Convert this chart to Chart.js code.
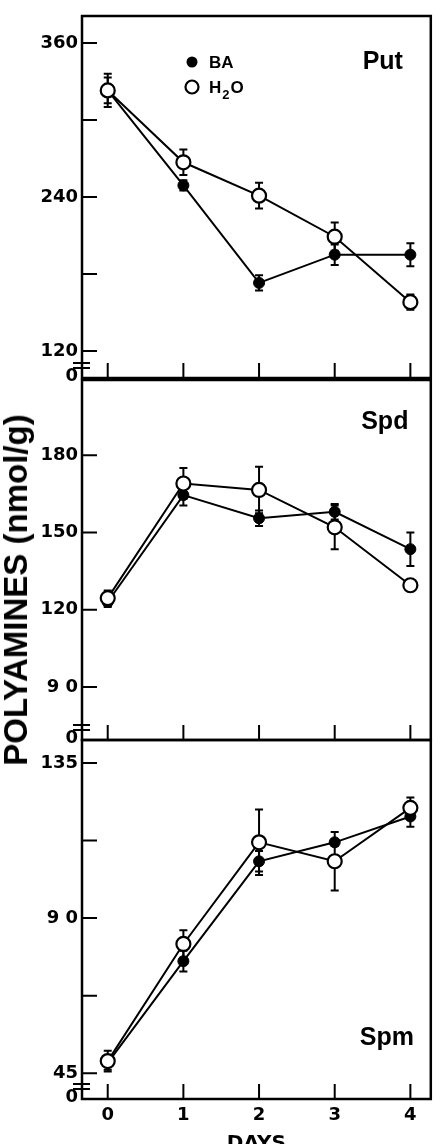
<!DOCTYPE html>
<html>
<head>
<meta charset="utf-8">
<script src="https://cdn.jsdelivr.net/npm/chart.js@4"></script>
<style>
  html, body { margin: 0; padding: 0; background: #fff; overflow: hidden; }
  #wrap { position: relative; width: 440px; height: 1144px; }
  canvas { position: absolute; left: 0; }
  #ytitle {
    position: absolute; left: 16px; top: 590px;
    transform: translate(-50%, -50%) rotate(-90deg);
    font: bold 33px "Liberation Sans", Arial, sans-serif;
    white-space: nowrap; color: #000;
  }
</style>
</head>
<body>
<div id="wrap">
  <canvas id="put" width="440" height="400" style="top:0px"></canvas>
  <canvas id="spd" width="440" height="400" style="top:360px"></canvas>
  <canvas id="spm" width="440" height="444" style="top:720px"></canvas>
  <div id="ytitle">POLYAMINES (nmol/g)</div>
</div>
<script>
// days after treatment
const days = [0, 1, 2, 3, 4];

// Putrescine
const putBA = [323, 249, 173, 195, 195];
const putBAErr = [10, 4, 6, 8, 9];
const putH2O = [323, 267, 241, 209, 158];
const putH2OErr = [13, 10, 10, 11, 6];
const putTicks = [120, 180, 240, 300, 360];
const putLabels = ['120', '', '240', '', '360'];

// Spermidine
const spdBA = [123, 164.5, 155.5, 158, 143.5];
const spdBAErr = [2, 4, 3, 3, 6.5];
const spdH2O = [124.5, 169, 166.5, 152, 129.5];
const spdH2OErr = [3, 6, 9, 8.5, 2];
const spdTicks = [90, 120, 150, 180];
const spdLabels = ['9 0', '120', '150', '180'];

// Spermine
const spmBA = [48, 77.5, 106.5, 112, 119.5];
const spmBAErr = [2, 3, 3, 1, 3];
const spmH2O = [48.5, 82.5, 112, 106.5, 122];
const spmH2OErr = [3, 4, 9.5, 8.5, 3];
const spmTicks = [45, 67.5, 90, 112.5, 135];
const spmLabels = ['45', '', '9 0', '', '135'];

Chart.defaults.color = '#000';
Chart.defaults.animation = false;

// frame, inner ticks, axis break, error bars, panel name, legend
const panelPlugin = {
  id: 'panel',
  beforeDatasetsDraw(chart) {
    const { ctx, scales: { x, y } } = chart;
    ctx.save();
    ctx.strokeStyle = '#000';
    ctx.lineWidth = 2;
    chart.data.datasets.forEach(ds => {
      ds.data.forEach((p, i) => {
        const e = ds.err[i];
        if (!e) return;
        const px = x.getPixelForValue(p.x);
        const top = y.getPixelForValue(p.y + e);
        const bot = y.getPixelForValue(p.y - e);
        ctx.beginPath();
        ctx.moveTo(px, top); ctx.lineTo(px, bot);
        ctx.moveTo(px - 4, top); ctx.lineTo(px + 4, top);
        ctx.moveTo(px - 4, bot); ctx.lineTo(px + 4, bot);
        ctx.stroke();
      });
    });
    ctx.restore();
  },
  afterDraw(chart, args, opts) {
    const { ctx, chartArea: a, scales: { x, y } } = chart;
    ctx.save();
    ctx.strokeStyle = '#000';
    ctx.lineWidth = 2.5;
    ctx.strokeRect(a.left, a.top, a.right - a.left, a.bottom - a.top);

    ctx.lineWidth = 2;
    ctx.beginPath();
    opts.ticks.forEach(v => {
      const py = y.getPixelForValue(v);
      ctx.moveTo(a.left, py); ctx.lineTo(a.left + 15, py);
    });
    days.forEach(d => {
      const px = x.getPixelForValue(d);
      ctx.moveTo(px, a.bottom); ctx.lineTo(px, a.bottom - 15);
    });
    // axis break
    ctx.moveTo(a.left - 9, a.bottom - 15); ctx.lineTo(a.left + 8, a.bottom - 15);
    ctx.moveTo(a.left - 9, a.bottom - 10); ctx.lineTo(a.left + 8, a.bottom - 10);
    ctx.stroke();

    ctx.fillStyle = '#000';
    ctx.font = 'bold 25px "Liberation Sans", Arial, sans-serif';
    ctx.textAlign = 'center';
    ctx.textBaseline = 'middle';
    const ny = opts.nameTop ? a.top + opts.nameDy : a.bottom - opts.nameDy;
    ctx.fillText(opts.name, a.right - opts.nameDx, ny);

    if (opts.legend) {
      const lx = a.left + 110;
      ctx.beginPath();
      ctx.arc(lx, a.top + 46, 5.5, 0, Math.PI * 2);
      ctx.fill();
      ctx.beginPath();
      ctx.lineWidth = 2.2;
      ctx.arc(lx, a.top + 71, 6.5, 0, Math.PI * 2);
      ctx.stroke();
      ctx.textAlign = 'left';
      ctx.font = 'bold 17px "Liberation Sans", Arial, sans-serif';
      ctx.fillText('BA', lx + 17, a.top + 47);
      ctx.fillText('H', lx + 17, a.top + 72);
      const hw = ctx.measureText('H').width;
      ctx.font = 'bold 13px "Liberation Sans", Arial, sans-serif';
      ctx.fillText('2', lx + 18 + hw, a.top + 79);
      const tw = ctx.measureText('2').width;
      ctx.font = 'bold 17px "Liberation Sans", Arial, sans-serif';
      ctx.fillText('O', lx + 19 + hw + tw, a.top + 72);
    }
    ctx.restore();
  }
};

function makeChart(id, cfg) {
  const pts = arr => days.map((d, i) => ({ x: d, y: arr[i] }));
  return new Chart(document.getElementById(id), {
    type: 'line',
    data: {
      datasets: [
        {
          label: 'H2O', data: pts(cfg.h2o), err: cfg.h2oErr, order: 0,
          borderColor: '#000', borderWidth: 2,
          pointRadius: 7, pointBackgroundColor: '#fff',
          pointBorderColor: '#000', pointBorderWidth: 2.2
        },
        {
          label: 'BA', data: pts(cfg.ba), err: cfg.baErr, order: 1,
          borderColor: '#000', borderWidth: 2,
          pointRadius: 5.5, pointBackgroundColor: '#000',
          pointBorderColor: '#000', pointBorderWidth: 1
        }
      ]
    },
    options: {
      responsive: false,
      layout: { padding: cfg.padding },
      plugins: {
        legend: { display: false },
        tooltip: { enabled: false },
        panel: {
          ticks: cfg.ticks, name: cfg.name, legend: cfg.legend,
          nameTop: cfg.nameTop, nameDx: cfg.nameDx, nameDy: cfg.nameDy
        }
      },
      scales: {
        x: {
          type: 'linear', min: -0.34, max: 4.27,
          display: cfg.showX,
          grid: { display: false, drawTicks: false },
          border: { display: false },
          afterBuildTicks: s => { s.ticks = days.map(v => ({ value: v })); },
          afterFit: s => { s.height = cfg.showX ? 65 : 0; },
          ticks: { padding: 6, font: { family: 'DejaVu Sans', size: 18, weight: 'bold' } },
          title: {
            display: true, text: 'DAYS',
            font: { family: 'DejaVu Sans', size: 20, weight: 'bold' },
            padding: { top: 0, bottom: 8 }
          }
        },
        y: {
          type: 'linear', min: cfg.min, max: cfg.max,
          grid: { display: false, drawTicks: false },
          border: { display: false },
          afterFit: s => { s.width = 82; },
          afterBuildTicks: s => {
            s.ticks = [{ value: s.min + 1.5 * (s.max - s.min) / 360 }]
              .concat(cfg.ticks.map(v => ({ value: v })));
          },
          ticks: {
            autoSkip: false, padding: 4,
            font: { family: 'DejaVu Sans', size: 18, weight: 'bold' },
            callback: (v, i) => i === 0 ? '0' : cfg.labels[i - 1]
          }
        }
      }
    },
    plugins: [panelPlugin]
  });
}

makeChart('put', {
  ba: putBA, baErr: putBAErr, h2o: putH2O, h2oErr: putH2OErr,
  ticks: putTicks, labels: putLabels, min: 98.9, max: 381,
  name: 'Put', nameTop: true, nameDx: 48, nameDy: 46, legend: true,
  showX: false, padding: { left: 0, right: 4, top: 16, bottom: 22 }
});

makeChart('spd', {
  ba: spdBA, baErr: spdBAErr, h2o: spdH2O, h2oErr: spdH2OErr,
  ticks: spdTicks, labels: spdLabels, min: 69.4, max: 209.2,
  name: 'Spd', nameTop: true, nameDx: 46, nameDy: 42, legend: false,
  showX: false, padding: { left: 0, right: 4, top: 20, bottom: 20 }
});

makeChart('spm', {
  ba: spmBA, baErr: spmBAErr, h2o: spmH2O, h2oErr: spmH2OErr,
  ticks: spmTicks, labels: spmLabels, min: 37.5, max: 141.7,
  name: 'Spm', nameTop: false, nameDx: 44, nameDy: 61, legend: false,
  showX: true, padding: { left: 0, right: 4, top: 20, bottom: 0 }
});
</script>
</body>
</html>
